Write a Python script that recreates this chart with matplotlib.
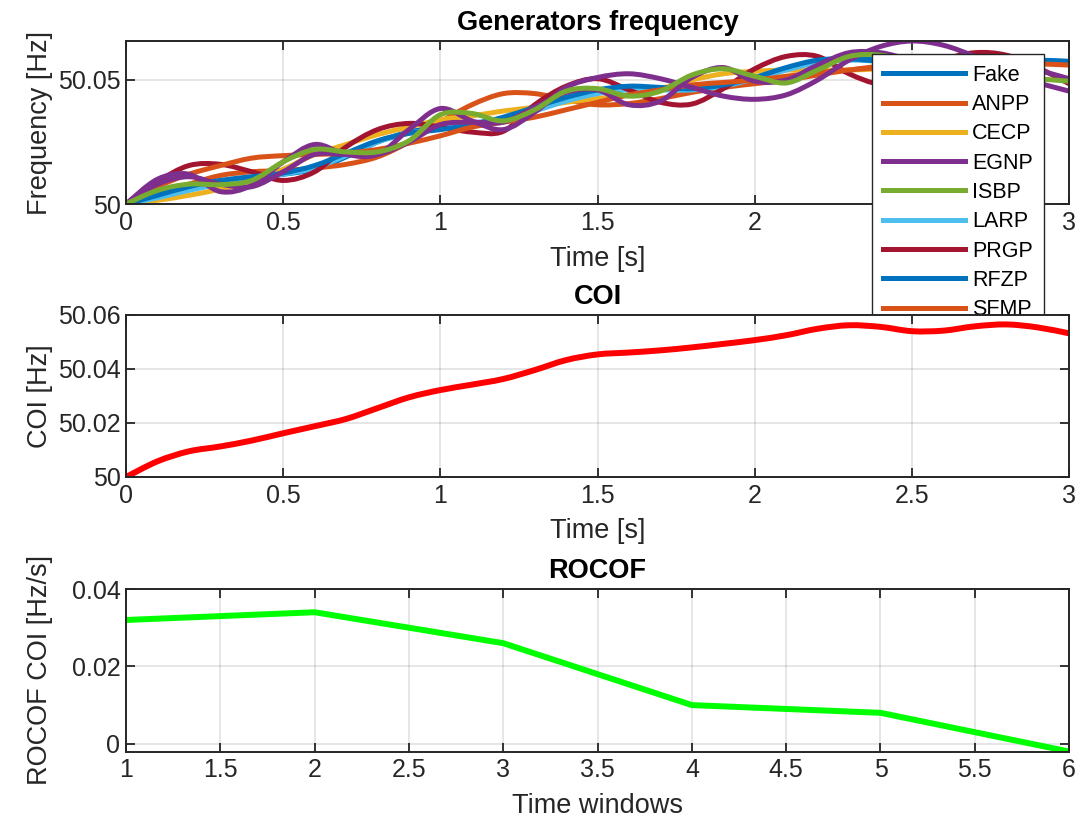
import numpy as np
import matplotlib
matplotlib.use('Agg')
import matplotlib.pyplot as plt
from matplotlib.path import Path
from matplotlib.patches import PathPatch
from matplotlib.lines import Line2D
from matplotlib.ticker import FormatStrFormatter, MultipleLocator

plt.rcParams['font.family'] = ['Liberation Sans', 'DejaVu Sans']

# time grid of the generator traces and COI [s]
t = np.linspace(0, 3, 31)

# generator frequency deviation above 50 Hz, in mHz
gen_names = ['Fake', 'ANPP', 'CECP', 'EGNP', 'ISBP', 'LARP', 'PRGP', 'RFZP', 'SFMP']
fake = [0, 3, 6, 8.5, 10.5, 12, 14, 19, 25, 29, 31, 32.5, 34.5, 38, 42, 45,
        47, 46.5, 46, 47, 50, 54.5, 57.5, 58.5, 58, 57, 56.5, 57, 57.5, 57.5, 57]
anpp = [0, 4, 8, 11.5, 13, 13.5, 14.5, 16, 19, 25, 33, 40, 44.5, 44.5, 42, 40,
        40.5, 42.5, 45, 47, 48.5, 50, 52, 54, 55.5, 56, 56, 56.5, 57, 57, 56.5]
cecp = [0, 1.5, 3.5, 6, 9, 14, 20, 24, 28, 31, 34, 35.5, 37.5, 39, 41, 42.5,
        44, 46.5, 50, 52.5, 53.5, 54, 54, 54, 54.5, 55, 55.5, 56, 56.5, 57, 57.5]
egnp = [0, 10, 12, 5, 7.5, 17, 24, 20, 20, 30, 38.5, 33.5, 30, 37, 47, 51,
        52.5, 50.5, 47, 43.5, 42.2, 44, 50, 58, 63.5, 65.7, 64, 59.5, 54, 49, 45.5]
isbp = [0, 5.5, 8, 7.8, 9.5, 17, 22, 21, 21, 25.5, 36, 36.5, 33.5, 38, 45.5, 46.5,
        43.5, 45.5, 52, 54.5, 51.5, 48.8, 54, 59.5, 60, 57, 54, 52, 51.5, 50.5, 49.5]
larp = [0, 2.5, 5.5, 8, 10, 12, 14.5, 19.5, 25, 28.5, 30.5, 32, 34, 37.5, 41.5, 44.5,
        46, 46, 46, 47.5, 50.5, 54, 57, 58, 57.5, 56.5, 56, 56.5, 57, 57.5, 57.5]
prgp = [0, 9, 15.5, 16, 13, 9.5, 13, 23, 30, 32.5, 31, 29, 29.3, 40, 47.5, 50.5,
        46, 41, 40.3, 46.5, 54.5, 59.5, 59.5, 52.5, 48.5, 52, 58, 61, 60, 55, 48.5]
rfzp = [0, 3.5, 7, 9.5, 11, 12.5, 15.5, 20.5, 25.5, 28.5, 30, 32, 35, 39, 43, 46,
        47.5, 47, 46.5, 48, 51, 55, 58, 58.5, 57.5, 56.5, 56, 56.5, 57.5, 58, 57.5]
sfmp = [0, 7, 12, 15.5, 18.5, 19.5, 20, 20.5, 22, 24.5, 27.5, 31, 33, 35, 38, 41,
        44, 46, 48, 49, 50, 51.5, 53, 54, 55, 55, 55.5, 56, 56.5, 56.5, 56]
# a further trace whose legend entry is hidden under the COI axes
gen_extra = [0, 8, 11, 8, 7, 13, 20, 20, 20, 25, 32, 33, 33, 39, 45, 46,
             40, 41.5, 51, 55, 49.5, 50, 56, 61, 61, 58, 56, 56.5, 57, 54, 50.5]

# centre of inertia frequency, mHz above 50 Hz
coi = [0, 5.8, 9.5, 11.3, 13.5, 16.2, 18.8, 21.5, 25.5, 29.5, 32.2, 34.2, 36.3,
       39.6, 43.3, 45.4, 46.1, 46.9, 48, 49.3, 50.7, 52.5, 54.9, 56.2, 55.6, 54,
       54.2, 55.8, 56.5, 55.4, 53.2]

# ROCOF per time window [Hz/s]
windows = [1, 2, 3, 4, 5, 6]
rocof = [0.032, 0.034, 0.026, 0.010, 0.008, -0.002]

colors = ['#0072BD', '#D95319', '#EDB120', '#7E2F8E', '#77AC30',
          '#4DBEEE', '#A2142F', '#0072BD', '#D95319']
AX = '#262626'


def smooth_curve(ax, x, y, color, lw, z=2):
    # draw a smooth (Catmull-Rom style Bezier) curve through the data points
    p = np.column_stack([np.asarray(x, float), np.asarray(y, float)])
    pe = np.vstack([p[0], p, p[-1]])
    verts = [p[0]]
    codes = [Path.MOVETO]
    for i in range(len(p) - 1):
        c1 = p[i] + (pe[i + 2] - pe[i]) / 6
        c2 = p[i + 1] - (pe[i + 3] - pe[i + 1]) / 6
        verts += [c1, c2, p[i + 1]]
        codes += [Path.CURVE4] * 3
    patch = PathPatch(Path(verts, codes), fill=False, edgecolor=color, lw=lw,
                      zorder=z, joinstyle='round', capstyle='butt')
    ax.add_patch(patch)


def style(ax):
    for s in ax.spines.values():
        s.set_linewidth(1.4)
        s.set_color(AX)
    ax.tick_params(direction='in', length=6.8, width=1.3, colors=AX,
                   labelsize=18, top=True, right=True, pad=5)
    ax.tick_params(axis='y', pad=4)
    ax.grid(True, color=AX, alpha=0.15, lw=1.1)
    ax.set_axisbelow(True)


fig = plt.figure(figsize=(10.81, 8.19), dpi=100)
L, W = 0.1166, 0.8724
ax1 = fig.add_axes([L, 0.7509, W, 0.199])
ax2 = fig.add_axes([L, 0.4176, W, 0.1978])
ax3 = fig.add_axes([L, 0.0824, W, 0.1984])

series = [fake, anpp, cecp, egnp, isbp, larp, prgp, rfzp, sfmp]
handles = []
for name, vals, c in zip(gen_names, series, colors):
    z = 2.3 if name in ('EGNP', 'ISBP') else 2
    smooth_curve(ax1, t, 50 + np.array(vals) / 1000, c, 3.6, z)
    handles.append(Line2D([], [], color=c, lw=3.6, label=name))
smooth_curve(ax1, t, 50 + np.array(gen_extra) / 1000, '#7E2F8E', 3.6, 2.2)
ax1.set_xlim(0, 3)
ax1.set_ylim(50, 50.0657)
ax1.set_yticks([50, 50.05])
ax1.xaxis.set_major_locator(MultipleLocator(0.5))
ax1.xaxis.set_major_formatter(FormatStrFormatter('%g'))
ax1.yaxis.set_major_formatter(FormatStrFormatter('%g'))
style(ax1)
ax1.set_title('Generators frequency', fontsize=19.5, fontweight='bold', pad=8)
ax1.set_xlabel('Time [s]', fontsize=19.5, color=AX)
ax1.set_ylabel('Frequency [Hz]', fontsize=19.5, color=AX)
leg = ax1.legend(handles=handles, loc='upper left', bbox_to_anchor=(0.791, 0.92),
                 borderaxespad=0, fontsize=15.5, handlelength=3.8,
                 handletextpad=0.35, labelspacing=0.385, borderpad=0.5,
                 fancybox=False, framealpha=1, edgecolor=AX)
leg.get_frame().set_linewidth(1.0)

smooth_curve(ax2, t, 50 + np.array(coi) / 1000, '#FF0000', 4.3)
ax2.set_xlim(0, 3)
ax2.set_ylim(50, 50.06)
ax2.set_yticks([50, 50.02, 50.04, 50.06])
ax2.xaxis.set_major_locator(MultipleLocator(0.5))
ax2.xaxis.set_major_formatter(FormatStrFormatter('%g'))
ax2.yaxis.set_major_formatter(FormatStrFormatter('%g'))
style(ax2)
ax2.set_title('COI', fontsize=19.5, fontweight='bold', pad=8)
ax2.set_xlabel('Time [s]', fontsize=19.5, color=AX)
ax2.set_ylabel('COI [Hz]', fontsize=19.5, color=AX)

ax3.plot(windows, rocof, color='#00FF00', lw=4.3)
ax3.set_xlim(1, 6)
ax3.set_ylim(-0.002, 0.04)
ax3.set_yticks([0, 0.02, 0.04])
ax3.xaxis.set_major_locator(MultipleLocator(0.5))
ax3.xaxis.set_major_formatter(FormatStrFormatter('%g'))
ax3.yaxis.set_major_formatter(FormatStrFormatter('%g'))
style(ax3)
ax3.set_title('ROCOF', fontsize=19.5, fontweight='bold', pad=8)
ax3.set_xlabel('Time windows', fontsize=19.5, color=AX)
ax3.set_ylabel('ROCOF COI [Hz/s]', fontsize=19.5, color=AX)

for ax in (ax1, ax2, ax3):
    ax.yaxis.set_label_coords(-0.077, 0.5)
    ax.xaxis.set_label_coords(0.5, -0.255)

fig.savefig('out.png', dpi=100)
